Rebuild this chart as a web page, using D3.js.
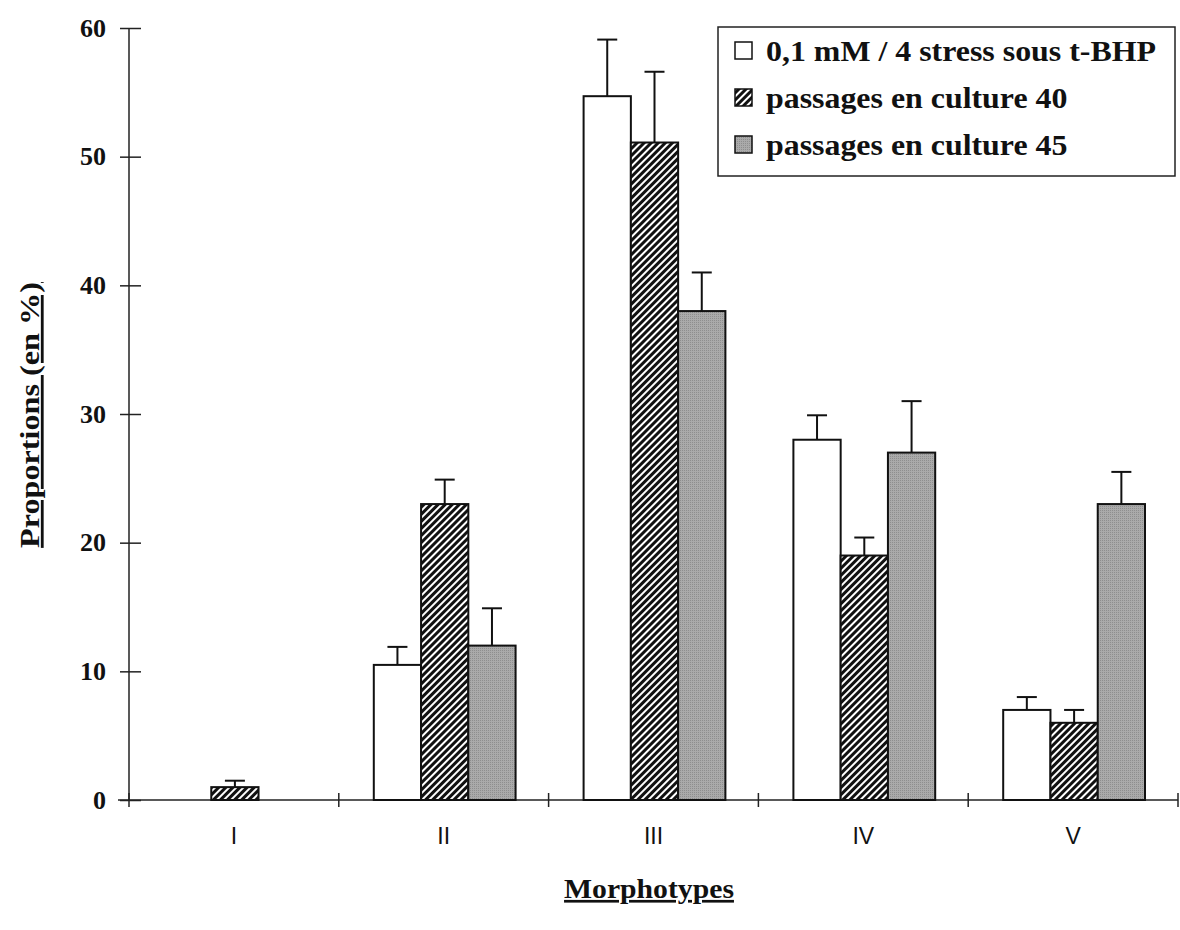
<!DOCTYPE html>
<html>
<head>
<meta charset="utf-8">
<script src="https://cdn.jsdelivr.net/npm/d3@7"></script>
<style>
  body { margin: 0; background: #fff; }
  svg { display: block; }
</style>
</head>
<body>
<div id="chart"></div>
<script>
// morphotypes on the x axis
var categories = ["I", "II", "III", "IV", "V"];
var seriesNames = ["0,1 mM / 4 stress sous t-BHP", "passages en culture 40", "passages en culture 45"];
// proportions (%) per series
var stressValues = [0, 10.5, 54.7, 28, 7];
var p40Values = [1, 23, 51.1, 19, 6];
var p45Values = [0, 12, 38, 27, 23];
// error bar sizes (sd)
var stressErr = [0, 1.4, 4.4, 1.9, 1.0];
var p40Err = [0.5, 1.9, 5.5, 1.4, 1.0];
var p45Err = [0, 2.9, 3.0, 4.0, 2.5];
var yTicks = [0, 10, 20, 30, 40, 50, 60];

var width = 1180, height = 930;
var margin = {left: 129, right: 2, top: 28, bottom: 130};
var serif = "Liberation Serif, Times New Roman, serif";

var svg = d3.select("#chart").append("svg")
  .attr("width", width)
  .attr("height", height);

var defs = svg.append("defs");
var hatch = defs.append("pattern")
  .attr("id", "hatch")
  .attr("patternUnits", "userSpaceOnUse")
  .attr("width", 5)
  .attr("height", 5)
  .attr("patternTransform", "rotate(45)");
hatch.append("rect").attr("width", 5).attr("height", 5).attr("fill", "#fff");
hatch.append("rect").attr("x", 0).attr("width", 3).attr("height", 5).attr("fill", "#111");

var grey = defs.append("pattern")
  .attr("id", "grey")
  .attr("patternUnits", "userSpaceOnUse")
  .attr("width", 2)
  .attr("height", 2);
grey.append("rect").attr("width", 2).attr("height", 2).attr("fill", "#aaa");
grey.append("rect").attr("width", 1).attr("height", 1).attr("fill", "#8e8e8e");

var fills = ["#fff", "url(#hatch)", "url(#grey)"];

var x = d3.scaleBand()
  .domain(categories)
  .range([margin.left, 1178])
  .paddingInner(0)
  .paddingOuter(0);

var x1 = d3.scaleBand()
  .domain([0, 1, 2])
  .range([35, x.bandwidth() - 33]);

var y = d3.scaleLinear()
  .domain([0, 60])
  .range([800, margin.top]);

var series = [stressValues, p40Values, p45Values];
var errs = [stressErr, p40Err, p45Err];

var rows = [];
categories.forEach(function(c, i) {
  series.forEach(function(s, k) {
    rows.push({cat: c, k: k, value: s[i], err: errs[k][i]});
  });
});

// y axis
var yAxis = svg.append("g")
  .attr("transform", "translate(" + margin.left + ",0)")
  .call(d3.axisLeft(y).tickValues(yTicks).tickSize(9).tickPadding(14));
yAxis.select(".domain").attr("d", "M0," + y(60) + "V" + y(0)).attr("stroke", "#222").attr("stroke-width", 1.5);
yAxis.selectAll(".tick line").attr("x2", -9).attr("x1", 12).attr("stroke", "#222").attr("stroke-width", 1.5);
yAxis.selectAll(".tick text")
  .attr("font-family", serif)
  .attr("font-weight", "bold")
  .attr("font-size", 26)
  .attr("fill", "#111");

// x axis
var xAxis = svg.append("g")
  .attr("transform", "translate(0," + y(0) + ")")
  .call(d3.axisBottom(x).tickSize(0).tickPadding(28));
xAxis.select(".domain").attr("d", "M118,0H1178").attr("stroke", "#222").attr("stroke-width", 1.5);
xAxis.selectAll(".tick text")
  .attr("font-family", "Liberation Sans, Arial, sans-serif")
  .attr("font-size", 23)
  .attr("fill", "#111");
var edges = categories.map(function(c) { return x(c); }).concat([x(categories[categories.length - 1]) + x.bandwidth()]);
xAxis.selectAll(".sep")
  .data(edges)
  .enter().append("line")
  .attr("x1", function(d) { return d; })
  .attr("x2", function(d) { return d; })
  .attr("y1", -7)
  .attr("y2", 7)
  .attr("stroke", "#222")
  .attr("stroke-width", 1.5);

// bars
svg.append("g").selectAll("rect")
  .data(rows)
  .enter().append("rect")
  .attr("x", function(d) { return x(d.cat) + x1(d.k); })
  .attr("width", x1.bandwidth())
  .attr("y", function(d) { return y(d.value); })
  .attr("height", function(d) { return y(0) - y(d.value); })
  .attr("fill", function(d) { return fills[d.k]; })
  .attr("stroke", "#111")
  .attr("stroke-width", 2);

// error bars
var eb = svg.append("g").selectAll("g")
  .data(rows.filter(function(d) { return d.err > 0; }))
  .enter().append("g")
  .attr("stroke", "#111")
  .attr("stroke-width", 2);
eb.append("line")
  .attr("x1", function(d) { return x(d.cat) + x1(d.k) + x1.bandwidth() / 2; })
  .attr("x2", function(d) { return x(d.cat) + x1(d.k) + x1.bandwidth() / 2; })
  .attr("y1", function(d) { return y(d.value); })
  .attr("y2", function(d) { return y(d.value + d.err); });
eb.append("line")
  .attr("x1", function(d) { return x(d.cat) + x1(d.k) + x1.bandwidth() / 2 - 10; })
  .attr("x2", function(d) { return x(d.cat) + x1(d.k) + x1.bandwidth() / 2 + 10; })
  .attr("y1", function(d) { return y(d.value + d.err); })
  .attr("y2", function(d) { return y(d.value + d.err); });

// axis titles
svg.append("text")
  .attr("transform", "translate(649,898) scale(1.1,1)")
  .attr("text-anchor", "middle")
  .attr("font-family", serif)
  .attr("font-weight", "bold")
  .attr("font-size", 27)
  .attr("text-decoration", "underline")
  .attr("fill", "#111")
  .text("Morphotypes");

svg.append("text")
  .attr("transform", "translate(39,415) rotate(-90) scale(1.15,1)")
  .attr("text-anchor", "middle")
  .attr("font-family", serif)
  .attr("font-weight", "bold")
  .attr("font-size", 28)
  .attr("text-decoration", "underline")
  .attr("fill", "#111")
  .text("Proportions (en %)");

// legend
var legend = svg.append("g");
legend.append("rect")
  .attr("x", 718).attr("y", 27)
  .attr("width", 457).attr("height", 149)
  .attr("fill", "#fff")
  .attr("stroke", "#222")
  .attr("stroke-width", 1.5);
var item = legend.selectAll(".item")
  .data(seriesNames)
  .enter().append("g")
  .attr("transform", function(d, i) { return "translate(735," + (51 + i * 47) + ")"; });
item.append("rect")
  .attr("x", 0).attr("y", -9)
  .attr("width", 17).attr("height", 17)
  .attr("fill", function(d, i) { return fills[i]; })
  .attr("stroke", "#111")
  .attr("stroke-width", 1.5);
item.append("text")
  .attr("transform", "translate(31,10) scale(1.1,1)")
  .attr("font-family", serif)
  .attr("font-weight", "bold")
  .attr("font-size", 29)
  .attr("fill", "#111")
  .text(function(d) { return d; });
</script>
</body>
</html>
